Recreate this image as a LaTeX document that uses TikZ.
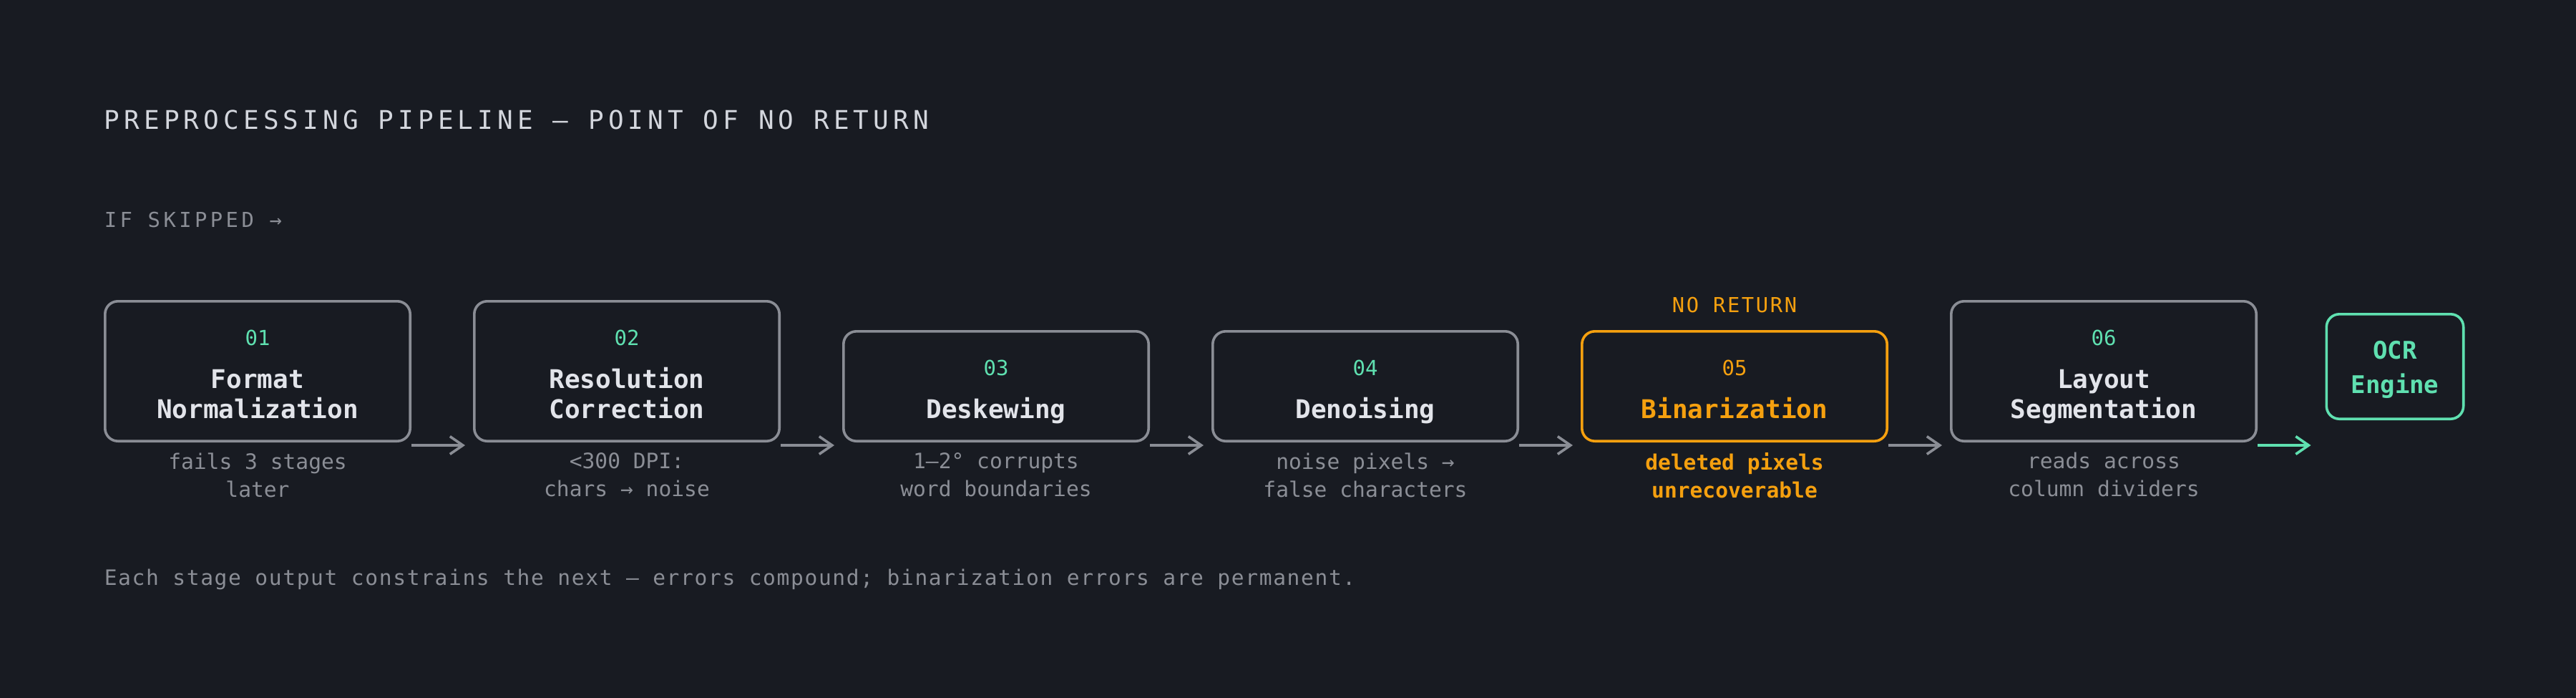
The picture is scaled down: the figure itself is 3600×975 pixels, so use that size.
\documentclass[tikz,border=0pt]{standalone}
\usepackage{fontspec}
\setmainfont{DejaVu Sans Mono}
\usepackage{tikz}
\usetikzlibrary{positioning,arrows.meta}

\definecolor{bg}{HTML}{181B22}
\definecolor{rim}{HTML}{8A8D95}
\definecolor{mint}{HTML}{5FE0B0}
\definecolor{amber}{HTML}{F5A00F}
\definecolor{ink}{HTML}{E2E4EA}
\definecolor{muted}{HTML}{8B8E96}
\definecolor{head}{HTML}{D3D6DD}

\newcommand\stagenum[2][mint]{{\fontsize{7.25}{9}\selectfont\mdseries\color{#1}\rule{0pt}{10pt}#2}}
\newcommand\floor{\rule[-2.5pt]{0pt}{2.5pt}}

\begin{document}
\begin{tikzpicture}[x=0.25pt,y=-0.25pt,
    stage/.style={draw=rim,line width=0.9pt,rounded corners=4.5pt,fill=bg,
                  minimum width=106.6pt,minimum height=48.85pt,inner sep=0pt,
                  align=center,text=ink,
                  font=\fontsize{9}{10.5}\selectfont\bfseries},
    low stage/.style={stage,minimum height=38.35pt},
    note/.style={inner sep=0pt,align=center,text=muted,anchor=north,
                 font=\fontsize{7.4}{9.75}\selectfont},
    flow/.style={draw=rim,line width=0.9pt,-{Straight Barb[length=4.5pt,width=6.2pt]}}]

  % page
  \fill[bg] (0,0) rectangle (3600,975);

  % headings
  \node[inner sep=0pt,anchor=base west,text=head,
        font=\fontsize{9}{11}\selectfont\addfontfeature{LetterSpace=17}]
        (title) at (145,180) {PREPROCESSING PIPELINE — POINT OF NO RETURN};
  \node[inner sep=0pt,anchor=base west,text=muted,
        font=\fontsize{7.2}{9}\selectfont\addfontfeature{LetterSpace=15.5}]
        (skip) at (145,317) {IF SKIPPED →};

  % stages
  \node[stage,anchor=south west] (b1) at (145,618)
        {\stagenum{01}\\[4.6pt]Format\\Normalization\floor};
  \node[stage,right=21.5pt of b1.south east,anchor=south west] (b2)
        {\stagenum{02}\\[4.6pt]Resolution\\Correction\floor};
  \node[low stage,right=21.5pt of b2.south east,anchor=south west] (b3)
        {\stagenum{03}\\[4.6pt]Deskewing\floor};
  \node[low stage,right=21.5pt of b3.south east,anchor=south west] (b4)
        {\stagenum{04}\\[4.6pt]Denoising\floor};
  \node[low stage,draw=amber,text=amber,right=21.5pt of b4.south east,anchor=south west] (b5)
        {\stagenum[amber]{05}\\[4.6pt]Binarization\floor};
  \node[stage,right=21.5pt of b5.south east,anchor=south west] (b6)
        {\stagenum{06}\\[4.6pt]Layout\\Segmentation\floor};
  \node[stage,draw=mint,text=mint,minimum width=47.85pt,minimum height=36.6pt,
        font=\fontsize{8.5}{12}\selectfont\bfseries] (ocr) at (3347,512)
        {\rule{0pt}{8.4pt}OCR\\Engine};

  \node[inner sep=0pt,anchor=base,text=amber,
        font=\fontsize{7.2}{9}\selectfont\addfontfeature{LetterSpace=9}]
        (nr) at ([yshift=6.25pt]b5.north) {NO RETURN};

  % what breaks if skipped
  \node[note] (c1) at ([yshift=-3.4pt]b1.south) {fails 3 stages\\later};
  \node[note] (c2) at ([yshift=-3.4pt]b2.south) {<300 DPI:\\chars → noise};
  \node[note] (c3) at ([yshift=-3.4pt]b3.south) {1–2° corrupts\\word boundaries};
  \node[note] (c4) at ([yshift=-3.4pt]b4.south) {noise pixels →\\false characters};
  \node[note,text=amber,font=\fontsize{7.4}{9.75}\selectfont\bfseries] (c5)
        at ([yshift=-3.4pt]b5.south) {deleted pixels\\unrecoverable};
  \node[note] (c6) at ([yshift=-3.4pt]b6.south) {reads across\\column dividers};

  \coordinate (into) at ([xshift=-5pt,yshift=-1pt]b6.south east -| ocr.west);

  \draw[flow]
    ([yshift=-1pt]b1.south east) -- ([xshift=-2.75pt,yshift=-1pt]b2.south west);
  \draw[flow]
    ([yshift=-1pt]b2.south east) -- ([xshift=-2.75pt,yshift=-1pt]b3.south west);
  \draw[flow]
    ([yshift=-1pt]b3.south east) -- ([xshift=-2.75pt,yshift=-1pt]b4.south west);
  \draw[flow]
    ([yshift=-1pt]b4.south east) -- ([xshift=-2.75pt,yshift=-1pt]b5.south west);
  \draw[flow]
    ([yshift=-1pt]b5.south east) -- ([xshift=-2.75pt,yshift=-1pt]b6.south west);
  \draw[flow,draw=mint]
    ([yshift=-1pt]b6.south east) -- (into);

  \node[inner sep=0pt,anchor=base west,text=muted,
        font=\fontsize{7.4}{9}\selectfont\addfontfeature{LetterSpace=5.5}]
        (foot) at (145,817)
        {Each stage output constrains the next — errors compound; binarization errors are permanent.};
\end{tikzpicture}
\end{document}
